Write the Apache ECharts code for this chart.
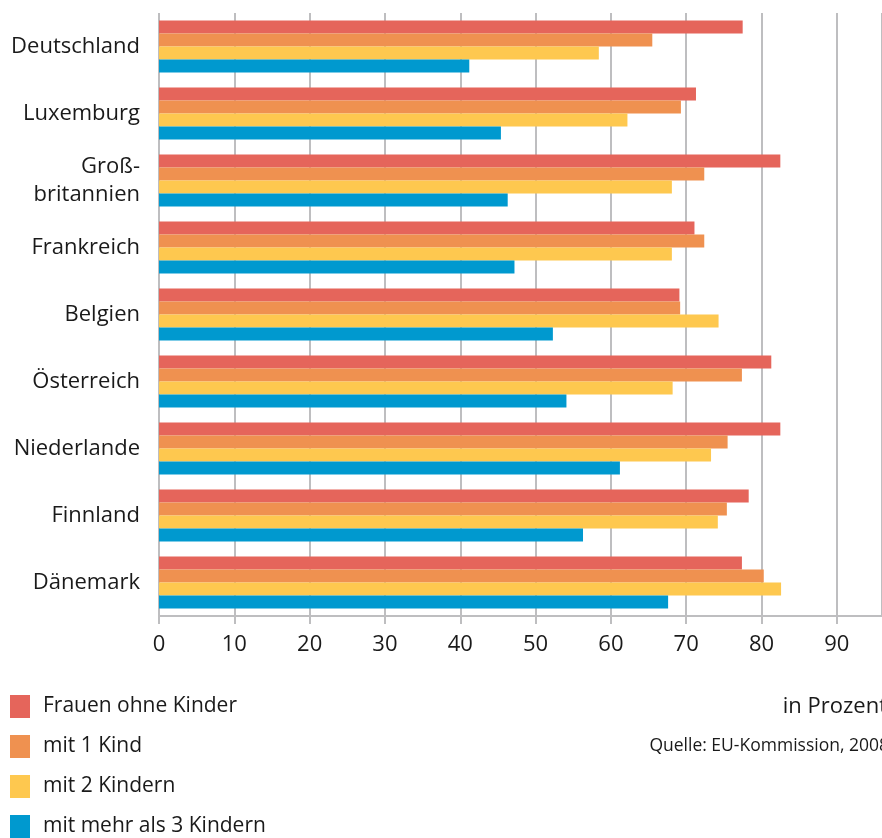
<!DOCTYPE html>
<html>
<head>
<meta charset="utf-8">
<script src="https://cdn.jsdelivr.net/npm/echarts@6/dist/echarts.min.js"></script>
<style>
  html, body { margin: 0; padding: 0; background: #fff; }
  #chart { width: 882px; height: 838px; }
</style>
</head>
<body>
<div id="chart"></div>
<script>
// Erwerbstätigkeit von Frauen nach Kinderzahl (in Prozent)
const countries = ['Deutschland', 'Luxemburg', 'Groß-\nbritannien', 'Frankreich', 'Belgien',
                   'Österreich', 'Niederlande', 'Finnland', 'Dänemark'];
const seriesNames = ['Frauen ohne Kinder', 'mit 1 Kind', 'mit 2 Kindern', 'mit mehr als 3 Kindern'];
const ohneKinder   = [77.5, 71.3, 82.5, 71.1, 69.1, 81.3, 82.5, 78.3, 77.4];
const einKind      = [65.5, 69.3, 72.4, 72.4, 69.2, 77.4, 75.5, 75.4, 80.3];
const zweiKinder   = [58.4, 62.2, 68.1, 68.1, 74.3, 68.2, 73.3, 74.2, 82.6];
const mehrKinder   = [41.2, 45.4, 46.3, 47.2, 52.3, 54.1, 61.2, 56.3, 67.6];
const colors = ['#E5655B', '#EF9150', '#FEC84F', '#0099CF'];

const font = '"Open Sans", "Noto Sans", sans-serif';
const textColor = '#1a1a1a';

const chart = echarts.init(document.getElementById('chart'));
const values = [ohneKinder, einKind, zweiKinder, mehrKinder];

chart.setOption({
  animation: false,
  color: colors,
  grid: { left: 159, right: 0, top: 13, height: 603, containLabel: false },
  xAxis: {
    type: 'value',
    min: 0, max: 96, interval: 10,
    axisLine: { show: true, lineStyle: { color: '#BEBEC0', width: 2 } },
    axisTick: { show: true, length: 8, lineStyle: { color: '#BEBEC0', width: 2 } },
    splitLine: { show: true, lineStyle: { color: '#BEBEC0', width: 2 } },
    axisLabel: { showMaxLabel: false, color: textColor, fontSize: 22, fontFamily: font, margin: 18 }
  },
  yAxis: {
    type: 'category',
    data: countries,
    inverse: true,
    axisLine: { show: false },
    axisTick: { show: false },
    axisLabel: { color: textColor, fontSize: 22, fontFamily: font, margin: 19, lineHeight: 28 }
  },
  legend: {
    orient: 'vertical',
    left: 5, top: 690, height: 160,
    itemWidth: 20, itemHeight: 23, itemGap: 17,
    icon: 'rect',
    data: seriesNames,
    textStyle: { color: textColor, fontSize: 21, fontFamily: font, padding: [0, 0, 0, 8] }
  },
  graphic: [
    { type: 'text', right: -5, top: 696,
      style: { text: 'in Prozent', fill: textColor, fontSize: 22, fontFamily: font } },
    { type: 'text', right: -7, top: 737,
      style: { text: 'Quelle: EU-Kommission, 2008', fill: textColor, fontSize: 17.5, fontFamily: font } }
  ],
  series: seriesNames.map((name, i) => ({
    name: name,
    type: 'bar',
    data: values[i],
    barWidth: 13,
    barGap: '0%',
    itemStyle: { color: colors[i] }
  }))
});
</script>
</body>
</html>
